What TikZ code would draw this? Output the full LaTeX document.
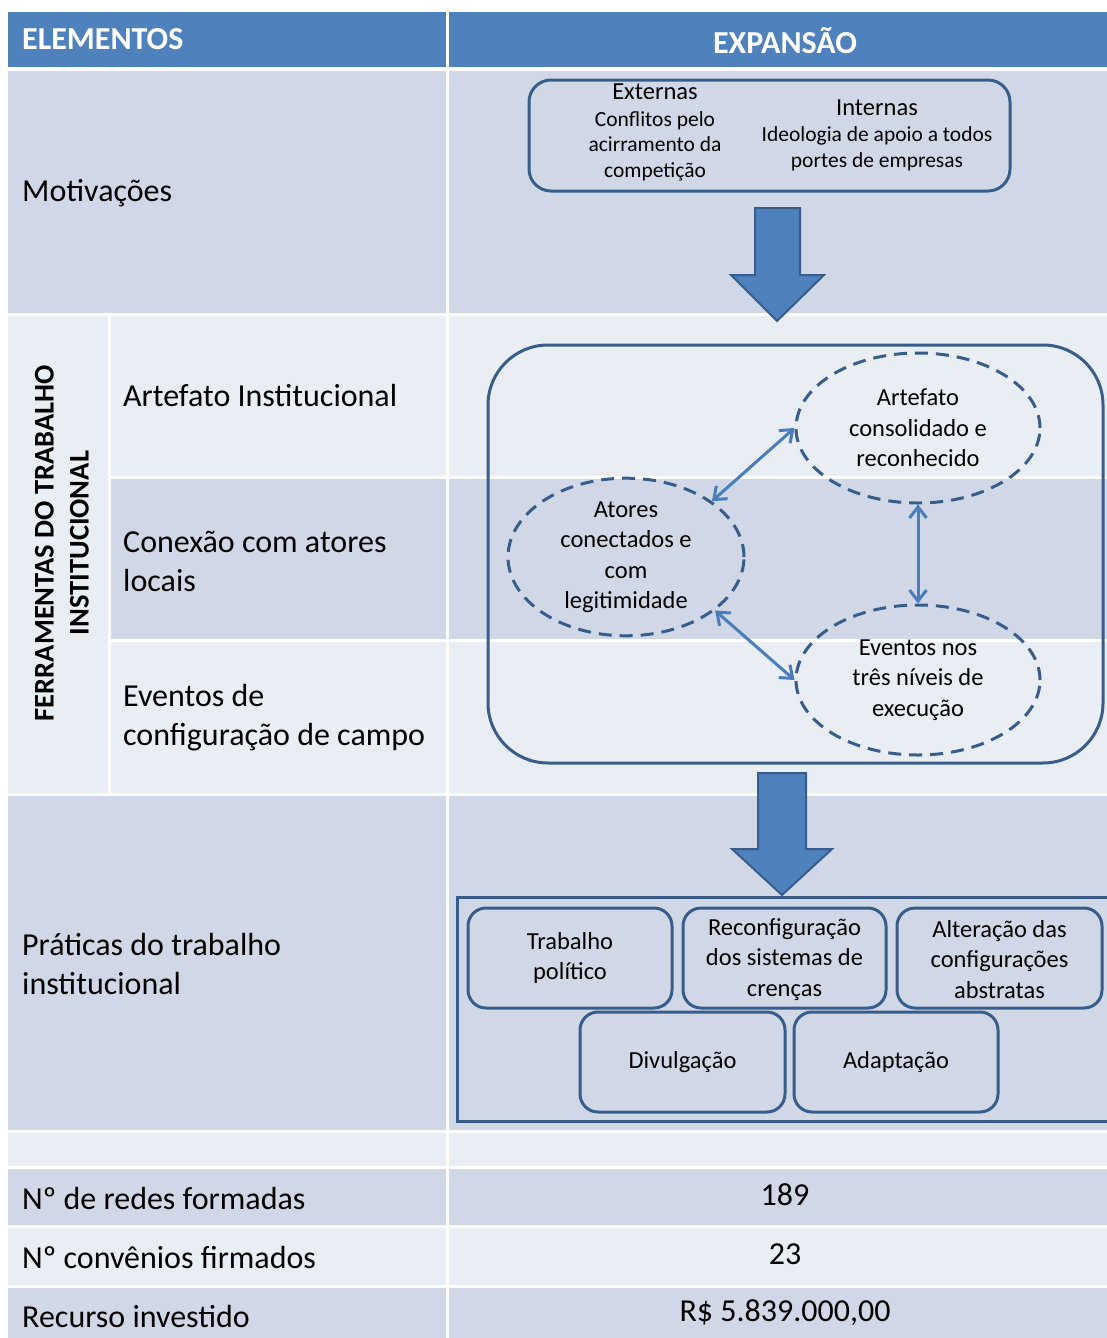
\documentclass[tikz,border=0pt]{standalone}
\usepackage{fontspec}
\setmainfont{Carlito}
\usetikzlibrary{arrows.meta,shapes.geometric}
\definecolor{hdrblue}{HTML}{4F81BD}
\definecolor{rowdark}{HTML}{D0D8E8}
\definecolor{rowlight}{HTML}{E9EDF4}
\definecolor{outl}{HTML}{385D8A}
\definecolor{conn}{HTML}{4A7EBB}
\tikzset{
  x=1pt,y=-1pt,
  hdrcell/.style={fill=hdrblue},
  darkcell/.style={fill=rowdark},
  lightcell/.style={fill=rowlight},
  hdrtext/.style={text=white,font=\fontsize{32}{39}\selectfont\bfseries,inner sep=0},
  lbl/.style={anchor=west,align=left,inner sep=0,font=\fontsize{32}{39}\selectfont},
  val/.style={inner sep=0,font=\fontsize{32}{39}\selectfont},
  rbox/.style={draw=outl,line width=3pt,rounded corners=18pt,fill=rowdark,inner sep=0},
  dell/.style={ellipse,draw=outl,line width=3pt,dash pattern=on 13pt off 8pt,inner sep=0,align=center,font=\fontsize{24.5}{30.5}\selectfont},
  boxtxt/.style={align=center,inner sep=0,font=\fontsize{24.5}{30.5}\selectfont},
  twoway/.style={{Straight Barb[length=11pt,width=17pt,line width=3pt]}-{Straight Barb[length=11pt,width=17pt,line width=3pt]},draw=conn,line width=3pt},
  blockarrow/.style={fill=hdrblue,draw=outl,line width=2pt,line join=miter}
}
\begin{document}
\begin{tikzpicture}
\useasboundingbox (0,0) rectangle (1107,1338);
\fill[white] (0,0) rectangle (1107,1338);
% header
\fill[hdrcell] (8,12) rectangle (446,67);
\fill[hdrcell] (449,12) rectangle (1107,67);
% Motivacoes
\fill[darkcell] (8,71) rectangle (446,313);
\fill[darkcell] (449,71) rectangle (1107,313);
% Ferramentas
\fill[lightcell] (8,316) rectangle (108,793);
\fill[lightcell] (111,316) rectangle (446,476);
\fill[lightcell] (449,316) rectangle (1107,476);
\fill[darkcell] (111,479) rectangle (446,639);
\fill[darkcell] (449,479) rectangle (1107,639);
\fill[lightcell] (111,642) rectangle (446,793);
\fill[lightcell] (449,642) rectangle (1107,793);
% Praticas
\fill[darkcell] (8,796) rectangle (446,1130);
\fill[darkcell] (449,796) rectangle (1107,1130);
% empty
\fill[lightcell] (8,1133) rectangle (446,1166);
\fill[lightcell] (449,1133) rectangle (1107,1166);
% numbers
\fill[darkcell] (8,1169) rectangle (446,1225);
\fill[darkcell] (449,1169) rectangle (1107,1225);
\fill[lightcell] (8,1228) rectangle (446,1285);
\fill[lightcell] (449,1228) rectangle (1107,1285);
\fill[darkcell] (8,1288) rectangle (446,1340);
\fill[darkcell] (449,1288) rectangle (1107,1340);

% header texts
\node[hdrtext,anchor=west] (hel) at (22,39) {ELEMENTOS};
\node[hdrtext] (hex) at (785,41) {EXPANSÃO};

% left labels
\node[lbl] (lmot) at (22,193) {Motivações};
\node[inner sep=0,rotate=90,align=center,font=\fontsize{28.5}{35}\selectfont\bfseries] (lfer) at (62,543) {FERRAMENTAS DO TRABALHO\\INSTITUCIONAL};
\node[lbl] (lart) at (123,396) {Artefato Institucional};
\node[lbl] (lcon) at (123,561) {Conexão com atores\\locais};
\node[lbl] (leve) at (123,718) {Eventos de\\configuração de campo};
\node[lbl] (lpra) at (22,964) {Práticas do trabalho\\institucional};
\node[lbl] (lred) at (22,1198) {Nº de redes formadas};
\node[lbl] (lcnv) at (22,1257) {Nº convênios firmados};
\node[lbl] (lrec) at (22,1316) {Recurso investido};
\node[val] (vred) at (785,1195) {189};
\node[val] (vcnv) at (785,1254) {23};
\node[val] (vrec) at (785,1313) {R\$ 5.839.000,00};

% motivations box
\node[draw=outl,line width=3pt,rounded corners=22pt,minimum width=481pt,minimum height=111pt,inner sep=0] (mot) at (769.5,135.5) {};
\node[inner sep=0,font=\fontsize{24.5}{28}\selectfont] (extt) at (655,92) {Externas};
\node[boxtxt,font=\fontsize{21.5}{25.5}\selectfont] (extb) at (655,146) {Conflitos pelo\\acirramento da\\competição};
\node[inner sep=0,font=\fontsize{24.5}{28}\selectfont] (intt) at (877,108) {Internas};
\node[boxtxt,font=\fontsize{21.5}{26}\selectfont] (intb) at (877,149) {Ideologia de apoio a todos\\portes de empresas};

% block arrow 1
\draw[blockarrow] (755,208) -- (800,208) -- (800,275) -- (824,275) -- (777,321) -- (731,275) -- (755,275) -- cycle;

% tools box
\node[draw=outl,line width=3pt,rounded corners=60pt,minimum width=615pt,minimum height=418pt,inner sep=0] (tools) at (795.5,554) {};
\node[dell,minimum width=244pt,minimum height=150pt] (art) at (918,428) {Artefato\\consolidado e\\reconhecido};
\node[dell,minimum width=236pt,minimum height=152pt] (ato) at (626,557) {Atores\\conectados e\\com\\legitimidade};
\node[dell,minimum width=244pt,minimum height=150pt] (evt) at (918,680) {Eventos nos\\três níveis de\\execução};
\draw[twoway] (ato.33) -- (art.west);
\draw[twoway] (art.south) -- (evt.north);
\draw[twoway] (ato.-31) -- (evt.west);

% block arrow 2
\draw[blockarrow] (758,773) -- (806,773) -- (806,849) -- (832,849) -- (782,895) -- (732,849) -- (758,849) -- cycle;

% practices container
\node[draw=outl,line width=3pt,minimum width=656pt,minimum height=224pt,inner sep=0] (prat) at (785,1009) {};
\node[rbox,minimum width=204pt,minimum height=100pt] (trab) at (570,958) {};
\node[boxtxt] (trabt) at (570,958) {Trabalho\\político};
\node[rbox,minimum width=203pt,minimum height=100pt] (reco) at (784.5,958) {};
\node[boxtxt] (recot) at (784.5,959.5) {Reconfiguração\\dos sistemas de\\crenças};
\node[rbox,minimum width=205pt,minimum height=100pt] (alte) at (999.5,958) {};
\node[boxtxt] (altet) at (999.5,959.5) {Alteração das\\configurações\\abstratas};
\node[rbox,minimum width=205pt,minimum height=100pt] (divu) at (682.5,1062) {};
\node[boxtxt] (divut) at (682.5,1062) {Divulgação};
\node[rbox,minimum width=204pt,minimum height=100pt] (adap) at (896,1062) {};
\node[boxtxt] (adapt) at (896,1062) {Adaptação};
\end{tikzpicture}
\end{document}
